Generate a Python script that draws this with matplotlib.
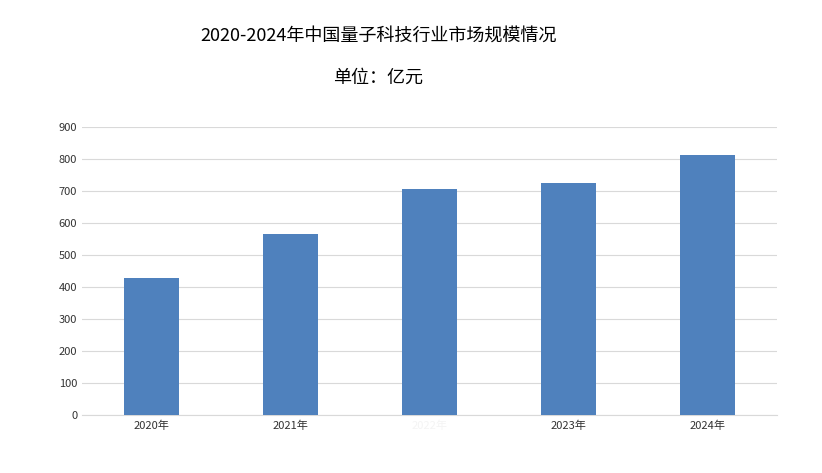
import matplotlib.pyplot as plt

plt.rcParams['font.family'] = ['Noto Sans CJK SC', 'DejaVu Sans']

years = ['2020年', '2021年', '2022年', '2023年', '2024年']
values = [428, 566, 706, 725, 812]

fig = plt.figure(figsize=(8.22, 4.73), dpi=100)
ax = fig.add_axes([0.1, 0.122, 0.845, 0.61])
ax.bar(range(len(years)), values, width=0.4, color='#4f81bd', zorder=3)
ax.set_ylim(0, 900)
ax.set_yticks(range(0, 1000, 100))
ax.set_xlim(-0.5, len(years) - 0.5)
ax.set_xticks(range(len(years)))
ax.set_xticklabels(years)
ax.grid(axis='y', color='#d9d9d9', linewidth=0.8, zorder=0)
for s in ['top', 'right', 'left']:
    ax.spines[s].set_visible(False)
ax.spines['bottom'].set_color('#d9d9d9')
ax.tick_params(length=0, labelsize=8, colors='#333333')
ax.get_xticklabels()[2].set_color('#f4f4f4')

fig.text(0.46, 0.925, '2020-2024年中国量子科技行业市场规模情况', ha='center', va='center', fontsize=13)
fig.text(0.46, 0.835, '单位：亿元', ha='center', va='center', fontsize=13)

plt.savefig('out.png')
